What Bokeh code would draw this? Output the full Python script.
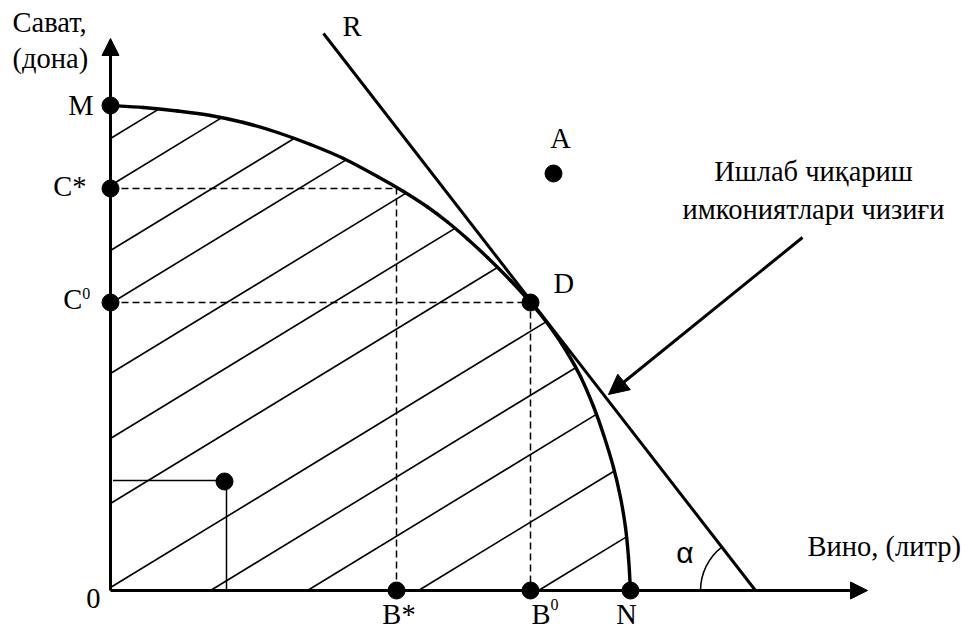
import math
from bokeh.plotting import figure
from bokeh.models import Range1d, Arrow, NormalHead
from bokeh.core.properties import value
from bokeh.embed import file_html
from bokeh.resources import INLINE

# ---- data (units: wine on x, dishes on y) ----
frontier_x = [0, 3.3, 6.7, 10, 13.3, 16.7, 20, 23.3, 26.7, 29.3, 31.7, 33.7, 35.7, 37.7, 40,
              42, 44, 45.7, 47, 48.3, 49.3, 50.3, 51, 51.5, 51.8, 52]
frontier_y = [48.5, 48.3, 47.95, 47.5, 46.8, 45.8, 44.6, 43.2, 41.4, 39.9, 38.35, 36.85, 35.15, 33.3, 31.0,
              28.8, 26.3, 23.75, 21.4, 18.4, 15.6, 12.3, 9.3, 6.3, 3.3, 0]

point_names = ["M", "C*", "C0", "B*", "B0", "N", "D", "A", "P"]
point_x = [0, 0, 0, 28.6, 42, 52, 42, 44.3, 11.4]
point_y = [48.5, 40.2, 28.8, 0, 0, 0, 28.8, 41.7, 10.9]

tangent_x = [21.3, 64.5]          # line R, tangent at D
tangent_y = [55.7, 0.0]

hatch_start_y = [45.2, 40.5, 34.0, 28.7, 21.7, 15.2, 8.7, 0.3]   # hatch lines starting on the y axis
hatch_start_x = [10.0, 19.7, 30.8, 42.8]                        # hatch lines starting on the x axis
hatch_slope = 0.61

axis_x_end = 75.7
axis_y_end = 55.2

callout_from = (69.2, 35.3)
callout_to = (49.8, 19.6)

alpha_angle_deg = 127.8
alpha_radius = 5.5

y_label_lines = ["Сават,", "(дона)"]
x_label = "Вино, (литр)"
curve_label_lines = ["Ишлаб чиқариш", "имкониятлари чизиғи"]

# ---- figure ----
W, H = 968, 630
p = figure(width=W, height=H, x_range=Range1d(-11.0, 85.8), y_range=Range1d(-4.0, 59.0),
           output_backend="svg", toolbar_location=None, min_border=0)
p.axis.visible = False
p.grid.visible = False
p.outline_line_color = None
p.background_fill_color = "white"
p.border_fill_color = "white"

BLACK = "#000000"


def hatch_end(x0, y0, s):
    """Intersect line y = y0 + s*(x-x0) with the frontier polyline."""
    for i in range(len(frontier_x) - 1):
        xa, ya, xb, yb = frontier_x[i], frontier_y[i], frontier_x[i + 1], frontier_y[i + 1]
        fa = ya - (y0 + s * (xa - x0))
        fb = yb - (y0 + s * (xb - x0))
        if fa >= 0 and fb <= 0:
            t = fa / (fa - fb) if fa != fb else 0
            xe = xa + t * (xb - xa)
            return xe, y0 + s * (xe - x0)
    return x0, y0


hx0, hy0, hx1, hy1 = [], [], [], []
for yy in hatch_start_y:
    xe, ye = hatch_end(0, yy, hatch_slope)
    hx0.append(0); hy0.append(yy); hx1.append(xe); hy1.append(ye)
for xx in hatch_start_x:
    xe, ye = hatch_end(xx, 0, hatch_slope)
    hx0.append(xx); hy0.append(0); hx1.append(xe); hy1.append(ye)
p.segment(hx0, hy0, hx1, hy1, line_color=BLACK, line_width=1.6)

# dashed guides
pt = dict(zip(point_names, zip(point_x, point_y)))
DASH = dict(line_color=BLACK, line_width=1.5, line_dash="7 4")
cs_y = pt["C*"][1]
cs_xe, _ = hatch_end(0, cs_y, 0.0)
p.line([0, cs_xe], [cs_y, cs_y], **DASH)
p.line([pt["B*"][0], pt["B*"][0]], [0, cs_y], **DASH)
p.line([0, pt["D"][0], pt["B0"][0]], [pt["C0"][1], pt["D"][1], 0], **DASH)

# small interior point guides
px_, py_ = pt["P"]
p.line([0.25, px_], [py_ + 0.1, py_ + 0.1], line_color=BLACK, line_width=1.5)
p.line([px_ + 0.2, px_ + 0.2], [py_, 0], line_color=BLACK, line_width=1.5)

# axes with arrows
p.add_layout(Arrow(x_start=0, y_start=0, x_end=axis_x_end, y_end=0, line_width=3,
                   end=NormalHead(size=17, fill_color=BLACK, line_color=BLACK, line_width=1)))
p.add_layout(Arrow(x_start=0, y_start=0, x_end=0, y_end=axis_y_end, line_width=3,
                   end=NormalHead(size=17, fill_color=BLACK, line_color=BLACK, line_width=1)))

# frontier: smooth cubic Bezier pieces through the read points (Catmull-Rom control points)
n = len(frontier_x)
bx0, by0, bx1, by1, bcx0, bcy0, bcx1, bcy1 = ([] for _ in range(8))
for i in range(n - 1):
    xm, ym = (frontier_x[i - 1], frontier_y[i - 1]) if i > 0 else (frontier_x[i], frontier_y[i])
    xa, ya = frontier_x[i], frontier_y[i]
    xb, yb = frontier_x[i + 1], frontier_y[i + 1]
    xp, yp = (frontier_x[i + 2], frontier_y[i + 2]) if i + 2 < n else (xb, yb)
    bx0.append(xa); by0.append(ya); bx1.append(xb); by1.append(yb)
    bcx0.append(xa + (xb - xm) / 6); bcy0.append(ya + (yb - ym) / 6)
    bcx1.append(xb - (xp - xa) / 6); bcy1.append(yb - (yp - ya) / 6)
p.bezier(x0=bx0, y0=by0, x1=bx1, y1=by1, cx0=bcx0, cy0=bcy0, cx1=bcx1, cy1=bcy1,
         line_color=BLACK, line_width=3.4, line_cap="round")

# tangent R
p.line(tangent_x, tangent_y, line_color=BLACK, line_width=3)

# alpha arc
p.arc(x=[tangent_x[1]], y=[tangent_y[1]], radius=alpha_radius,
      start_angle=math.radians(alpha_angle_deg), end_angle=math.pi,
      line_color=BLACK, line_width=1.5)

# callout arrow
p.add_layout(Arrow(x_start=callout_from[0], y_start=callout_from[1], x_end=callout_to[0], y_end=callout_to[1],
                   line_width=3, end=NormalHead(size=20, fill_color=BLACK, line_color=BLACK, line_width=1)))

# points
p.scatter(point_x, point_y, size=17, fill_color=BLACK, line_color=BLACK)

# ---- texts ----
SERIF = value("Liberation Serif")
FS = "28.5px"
LIFT = 0.9        # baseline correction (data units) for 28.5px text
LIFT_SMALL = 0.5  # for 16px superscripts


def txt(x, y, s, align="left", size=FS, font=SERIF, lift=LIFT):
    p.text(x=[x], y=[y + lift], text=[s], text_font=font, text_font_size=size, text_color=BLACK,
           text_align=align, text_baseline="alphabetic")


txt(-9.8, 55.9, y_label_lines[0])
txt(-9.8, 52.3, y_label_lines[1])
txt(-1.7, 47.6, "M", "right")
txt(-2.4, 39.5, "C*", "right")
txt(-2.83, 28.2, "C", "right")
txt(-2.83, 29.2, "0", "left", "16px", lift=LIFT_SMALL)
txt(-1.0, -1.7, "0", "right")
txt(28.85, -3.3, "B*", "center")
txt(44.0, -3.3, "B", "right")
txt(44.0, -1.9, "0", "left", "16px", lift=LIFT_SMALL)
txt(51.6, -3.3, "N", "center")
txt(44.3, 29.8, "D")
txt(45.0, 44.3, "A", "center")
txt(24.15, 55.5, "R", "center")
txt(70.3, 41.0, curve_label_lines[0], "center")
txt(70.3, 37.2, curve_label_lines[1], "center")
txt(69.7, 3.5, x_label)
txt(57.45, 2.8, "α", "center", "30px", value("Liberation Sans"), lift=1.0)

open("out.html", "w").write(file_html(p, INLINE))
